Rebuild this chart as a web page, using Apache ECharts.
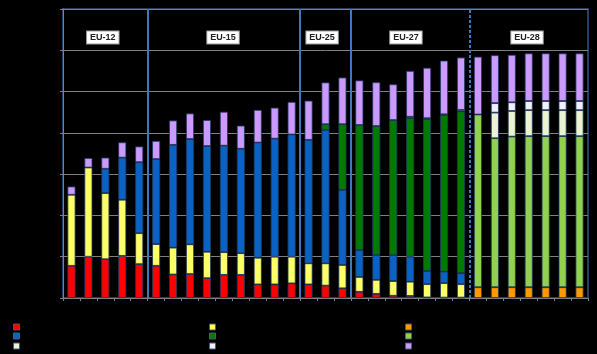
<!DOCTYPE html>
<html>
<head>
<meta charset="utf-8">
<script src="https://cdn.jsdelivr.net/npm/echarts@6/dist/echarts.min.js"></script>
<style>
  html, body { margin: 0; padding: 0; background: #000; }
  #myChart { width: 597px; height: 354px; }
</style>
</head>
<body>
<div id="myChart"></div>
<script>
// years on the x axis
const years = ['1990','1991','1992','1993','1994','1995','1996','1997','1998','1999','2000',
  '2001','2002','2003','2004','2005','2006','2007','2008','2009','2010',
  '2011','2012','2013','2014','2015','2016','2017','2018','2019','2020'];

// series values (bn EUR), null = no segment
const exportRefunds = [7.8,10.0,9.4,10.2,8.2,7.8,5.7,5.8,4.8,5.6,5.6,3.3,3.3,3.55,3.3,3.0,2.35,1.5,1.0,0.55,0.5,0.15,0.1,0.1,null,null,null,null,null,null,null];
const otherMarket   = [17.2,21.6,16.0,13.6,7.5,5.25,6.5,7.2,6.4,5.5,5.25,6.45,6.7,6.45,5.1,5.4,5.65,3.6,3.4,3.55,3.45,3.2,3.5,3.25,null,null,null,null,null,null,null];
const coupledDP     = [null,null,5.9,10.2,17.2,20.6,24.9,25.5,25.6,25.8,25.3,27.9,28.6,29.6,29.9,32.3,18.2,6.5,6.05,6.3,6.05,3.2,2.8,2.65,null,null,null,null,null,null,null];
const decoupledDP   = [null,null,null,null,null,null,null,null,null,null,null,null,null,null,null,1.4,15.9,30.3,31.2,32.7,33.6,36.8,37.9,39.2,null,null,null,null,null,null,null];
const marketSupport = [null,null,null,null,null,null,null,null,null,null,null,null,null,null,null,null,null,null,null,null,null,null,null,null,2.6,2.6,2.6,2.6,2.6,2.6,2.6];
const directPay     = [null,null,null,null,null,null,null,null,null,null,null,null,null,null,null,null,null,null,null,null,null,null,null,null,41.85,36.1,36.5,36.6,36.6,36.6,36.6];
const greening      = [null,null,null,null,null,null,null,null,null,null,null,null,null,null,null,null,null,null,null,null,null,null,null,null,null,6.2,6.2,6.3,6.3,6.3,6.3];
const coupledSupport= [null,null,null,null,null,null,null,null,null,null,null,null,null,null,null,null,null,null,null,null,0.3,0.2,0.2,0.35,null,2.3,2.1,2.2,2.2,2.2,2.2];
const ruralDev      = [2.0,2.3,2.7,3.7,3.8,4.4,5.9,6.2,6.3,8.2,5.6,7.9,7.5,7.9,9.5,10.1,11.3,10.8,10.6,8.65,11.1,12.2,13.0,12.7,14.0,11.6,11.5,11.55,11.55,11.55,11.55];

// y axis ticks
const yMin = 0, yMax = 70, yStep = 10;

// enlargement periods: boundaries (in bar slots) and labels
const groupNames = ['EU-12','EU-15','EU-25','EU-27','EU-28'];
const groupLabelX = [2.35, 9.45, 15.3, 20.25, 27.4];
const groupBounds = [5, 14, 17, 24];
const labelY = 63.1;

// legend is laid out 3 x 3, row by row
const legendOrder = ['Export refunds','Other market support','Market support',
  'Coupled direct payments','Decoupled direct payments','Direct payments',
  'Greening','Coupled support','Rural development'];

// stacking order bottom -> top
const seriesDefs = [
  { name: 'Export refunds', data: exportRefunds, color: '#ff0000' },
  { name: 'Other market support', data: otherMarket, color: '#ffff66' },
  { name: 'Coupled direct payments', data: coupledDP, color: '#0a62c4' },
  { name: 'Decoupled direct payments', data: decoupledDP, color: '#007a00' },
  { name: 'Market support', data: marketSupport, color: '#ff9900' },
  { name: 'Direct payments', data: directPay, color: '#92d050' },
  { name: 'Greening', data: greening, color: '#ebf3d0' },
  { name: 'Coupled support', data: coupledSupport, color: '#f2f0ff' },
  { name: 'Rural development', data: ruralDev, color: '#cc99ff' }
];

const myChart = echarts.init(document.getElementById('myChart'));

const barSeries = seriesDefs.map(s => ({
  name: s.name,
  type: 'bar',
  stack: 'cap',
  xAxisIndex: 0,
  yAxisIndex: 0,
  barWidth: 8,
  data: s.data,
  itemStyle: { color: s.color, borderColor: '#1f3a60', borderWidth: 0.8 },
  emphasis: { disabled: true }
}));

// separators + EU labels drawn on a hidden value x axis (0..31 slots)
const sepSeries = {
  name: 'periods',
  type: 'line',
  xAxisIndex: 1,
  yAxisIndex: 0,
  data: [],
  silent: true,
  markLine: {
    silent: true,
    symbol: 'none',
    label: { show: false },
    lineStyle: { color: '#3f78bd', width: 2, type: 'solid' },
    data: groupBounds.map((b, i) => ({
      xAxis: b,
      lineStyle: { type: i === groupBounds.length - 1 ? [3, 2] : 'solid' }
    }))
  },
  markPoint: {
    silent: true,
    symbol: 'rect',
    symbolSize: 0,
    label: {
      show: true,
      position: 'inside',
      formatter: p => p.name,
      color: '#222',
      fontSize: 9,
      fontWeight: 'bold',
      fontFamily: 'Liberation Sans, Arial, sans-serif',
      backgroundColor: '#ffffff',
      borderColor: '#9a9a9a',
      borderWidth: 1,
      padding: [2, 3, 1, 3]
    },
    data: groupNames.map((n, i) => ({ name: n, coord: [groupLabelX[i], labelY] }))
  }
};

const legendLeft = [13, 209, 405];
const legendTop = [323, 332, 342];

myChart.setOption({
  backgroundColor: '#000000',
  animation: false,
  grid: {
    left: 63, right: 9, top: 9, bottom: 56,
    show: true,
    borderColor: '#243f66',
    borderWidth: 2,
    backgroundColor: 'transparent'
  },
  legend: legendOrder.map((n, i) => ({
    data: [n],
    left: legendLeft[i % 3],
    top: legendTop[Math.floor(i / 3)],
    icon: 'rect',
    itemWidth: 6,
    itemHeight: 6,
    itemGap: 4,
    padding: 0,
    selectedMode: false,
    itemStyle: { borderColor: '#4a5a7a', borderWidth: 1 },
    textStyle: { color: '#000', fontSize: 8, fontFamily: 'Liberation Sans, Arial' }
  })),
  xAxis: [
    {
      type: 'category',
      data: years,
      boundaryGap: true,
      axisLine: { lineStyle: { color: '#808080', width: 1 } },
      axisTick: { show: true, length: 3, lineStyle: { color: '#808080' } },
      axisLabel: { color: '#000', fontSize: 8, interval: 0, rotate: 90, margin: 4 },
      splitLine: { show: false }
    },
    {
      type: 'value',
      min: 0,
      max: years.length,
      show: false
    }
  ],
  yAxis: {
    type: 'value',
    min: yMin,
    max: yMax,
    interval: yStep,
    axisLine: { show: true, lineStyle: { color: '#808080', width: 1 } },
    axisTick: { show: true, length: 3, lineStyle: { color: '#808080' } },
    axisLabel: { color: '#000', fontSize: 9, margin: 5 },
    splitLine: { lineStyle: { color: '#7f7f7f', width: 1 } }
  },
  series: barSeries.concat([sepSeries])
});
</script>
</body>
</html>
